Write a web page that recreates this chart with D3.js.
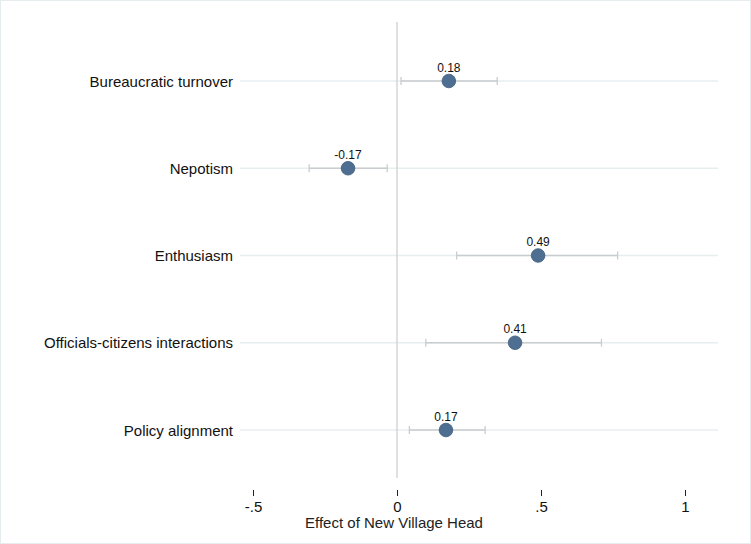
<!DOCTYPE html>
<html>
<head>
<meta charset="utf-8">
<script src="https://cdn.jsdelivr.net/npm/d3@7"></script>
<style>
  body { margin: 0; background: #fff; }
  svg { display: block; font-family: "Liberation Sans", Arial, sans-serif; }
</style>
</head>
<body>
<div id="chart"></div>
<script>
// Data
var categories = ["Bureaucratic turnover", "Nepotism", "Enthusiasm", "Officials-citizens interactions", "Policy alignment"]
var estimates = [0.18, -0.17, 0.49, 0.41, 0.17]
var lowerCI = [0.014, -0.305, 0.207, 0.10, 0.043]
var upperCI = [0.348, -0.034, 0.766, 0.71, 0.306]
var tickValues = [-0.5, 0, 0.5, 1]
var tickLabels = ["-.5", "0", ".5", "1"]

var width = 751
var height = 544

var svg = d3.select('#chart')
            .append('svg')
            .attr('width', width)
            .attr('height', height)

// outer frame
svg.append('rect')
    .attr('x', 0.5).attr('y', 0.5)
    .attr('width', width - 1).attr('height', height - 1)
    .attr('fill', 'none')
    .attr('stroke', '#e6eced')

// Scales
var xScale = d3.scaleLinear()
                .domain([-0.5, 1])
                .range([253, 685])

var yScale = d3.scalePoint()
                .domain(categories)
                .range([81, 430])

// horizontal gridlines
svg.append('g')
    .selectAll('line')
    .data(categories)
    .join('line')
    .attr('x1', 240)
    .attr('x2', 718)
    .attr('y1', d => yScale(d))
    .attr('y2', d => yScale(d))
    .attr('stroke', '#e7eef0')
    .attr('stroke-width', 1.3)

// zero line
svg.append('line')
    .attr('x1', xScale(0)).attr('x2', xScale(0))
    .attr('y1', 22).attr('y2', 478)
    .attr('stroke', '#cfcfcf')
    .attr('stroke-width', 1.3)

// x axis (ticks only)
var xAxis = d3.axisBottom(xScale)
                .tickValues(tickValues)
                .tickFormat((d, i) => tickLabels[i])
                .tickSize(6)
                .tickPadding(5)

var axisG = svg.append('g')
    .attr('transform', 'translate(0, 490)')
    .call(xAxis)
axisG.select('.domain').remove()
axisG.selectAll('.tick line').attr('stroke', '#222')
axisG.selectAll('.tick text')
    .attr('fill', '#111')
    .style('font-size', '15px')
    .style('font-family', '"Liberation Sans", Arial, sans-serif')

// axis title
svg.append('text')
    .attr('x', 394)
    .attr('y', 528)
    .attr('text-anchor', 'middle')
    .attr('fill', '#222')
    .style('font-size', '15px')
    .text('Effect of New Village Head')

// category labels
svg.append('g')
    .selectAll('text')
    .data(categories)
    .join('text')
    .attr('x', 233)
    .attr('y', d => yScale(d) + 5.5)
    .attr('text-anchor', 'end')
    .attr('fill', '#111')
    .style('font-size', '15px')
    .text(d => d)

var rows = categories.map((c, i) => ({ cat: c, est: estimates[i], lo: lowerCI[i], hi: upperCI[i] }))

// CI lines
var ci = svg.append('g')
ci.selectAll('line.ci')
    .data(rows)
    .join('line')
    .attr('class', 'ci')
    .attr('x1', d => xScale(d.lo))
    .attr('x2', d => xScale(d.hi))
    .attr('y1', d => yScale(d.cat))
    .attr('y2', d => yScale(d.cat))
    .attr('stroke', '#c9cdcf')
    .attr('stroke-width', 1.3)

// caps
ci.selectAll('line.capL')
    .data(rows)
    .join('line')
    .attr('class', 'capL')
    .attr('x1', d => xScale(d.lo)).attr('x2', d => xScale(d.lo))
    .attr('y1', d => yScale(d.cat) - 4).attr('y2', d => yScale(d.cat) + 4)
    .attr('stroke', '#c9cdcf')
    .attr('stroke-width', 1.3)
ci.selectAll('line.capR')
    .data(rows)
    .join('line')
    .attr('class', 'capR')
    .attr('x1', d => xScale(d.hi)).attr('x2', d => xScale(d.hi))
    .attr('y1', d => yScale(d.cat) - 4).attr('y2', d => yScale(d.cat) + 4)
    .attr('stroke', '#c9cdcf')
    .attr('stroke-width', 1.3)

// points
svg.append('g')
    .selectAll('circle')
    .data(rows)
    .join('circle')
    .attr('cx', d => xScale(d.est))
    .attr('cy', d => yScale(d.cat))
    .attr('r', 6.8)
    .attr('fill', '#4e6f92')
    .attr('stroke', '#3d5a78')
    .attr('stroke-width', 0.8)

// value labels
svg.append('g')
    .selectAll('text')
    .data(rows)
    .join('text')
    .attr('x', d => xScale(d.est))
    .attr('y', d => yScale(d.cat) - 9.5)
    .attr('text-anchor', 'middle')
    .attr('fill', '#111')
    .style('font-size', '12px')
    .text(d => d.est.toFixed(2))
</script>
</body>
</html>
